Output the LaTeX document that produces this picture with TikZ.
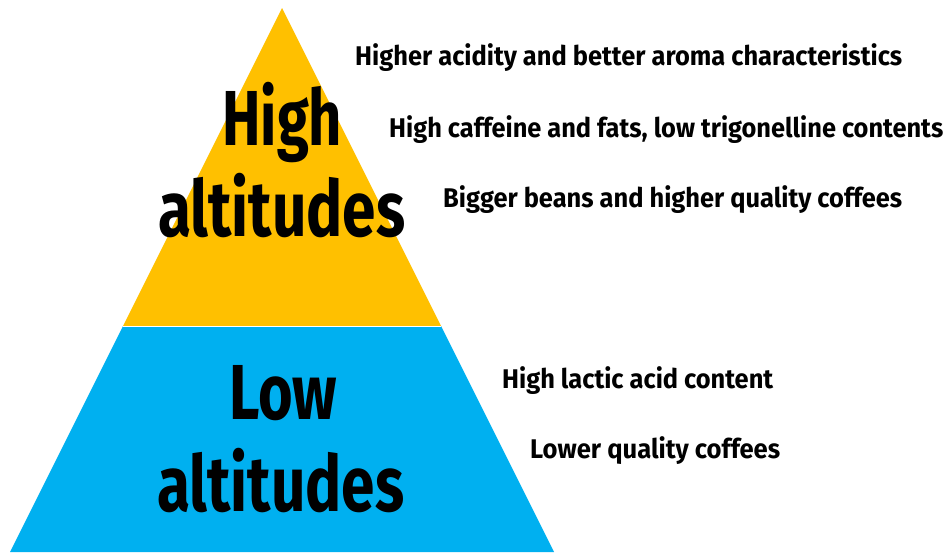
\documentclass[tikz,border=0pt]{standalone}
\usepackage{fontspec}
\usepackage{graphicx}
\setmainfont{Fira Sans}
\definecolor{pyellow}{HTML}{FFC000}
\definecolor{pblue}{HTML}{00B0F0}
\newcommand{\fitw}[2]{\resizebox{#1pt}{\height}{#2}}
\tikzset{
  bigtxt/.style={anchor=base west, inner sep=0pt, font=\fontsize{78}{80}\selectfont\bfseries},
  smalltxt/.style={anchor=base west, inner sep=0pt, font=\fontsize{27}{29}\selectfont\bfseries}
}
\begin{document}
\begin{tikzpicture}[x=1pt,y=-1pt]
\useasboundingbox (0,0) rectangle (948,552);
\fill[white] (0,0) rectangle (948,552);
% pyramid
\fill[pyellow] (282,8) -- (441,326) -- (123,326) -- cycle;
\fill[pblue] (123,326) -- (441,326) -- (554,552) -- (10,552) -- cycle;
\draw[white, line width=1pt] (123,326) -- (441,326);
% big labels
\node[bigtxt] (high) at (222,145) {\fitw{120}{High}};
\node[bigtxt] (alt1) at (158,236) {\fitw{247}{altitudes}};
\node[bigtxt] (low) at (229,419) {\fitw{108}{Low}};
\node[bigtxt] (alt2) at (157,511) {\fitw{247}{altitudes}};
% right texts
\node[smalltxt] (t1) at (355,65) {\fitw{547}{Higher acidity and better aroma characteristics}};
\node[smalltxt] (t2) at (389,137) {\fitw{554}{High caffeine and fats, low trigonelline contents}};
\node[smalltxt] (t3) at (443,207) {\fitw{459}{Bigger beans and higher quality coffees}};
\node[smalltxt] (t4) at (502,388) {\fitw{271}{High lactic acid content}};
\node[smalltxt] (t5) at (530,458) {\fitw{250}{Lower quality coffees}};
\end{tikzpicture}
\end{document}
